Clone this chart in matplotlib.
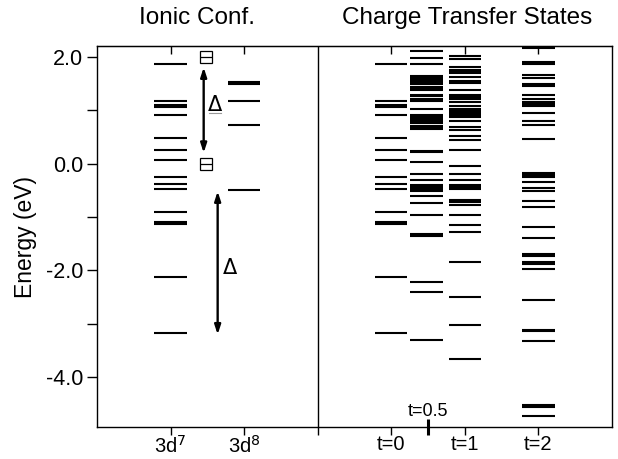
import matplotlib
matplotlib.use("Agg")
import matplotlib.pyplot as plt
from matplotlib.ticker import FixedLocator

plt.rcParams['font.family'] = ['Liberation Sans', 'DejaVu Sans']

# ---- data (energies in eV) ----
levels_3d7 = [1.86, 1.18, 1.09, 1.05, 0.90, 0.48, 0.25, 0.06, -0.25, -0.39, -0.47,
              -0.91, -1.09, -1.13, -2.12, -3.18]
levels_3d8 = [1.52, 1.48, 1.18, 0.72, -0.49]
levels_t0 = list(levels_3d7)
levels_t05 = [2.11, 1.97, 1.86, 1.64, 1.60, 1.56, 1.52, 1.48, 1.44, 1.40, 1.37,
              1.29, 1.26, 1.20, 1.17, 1.02, 0.91, 0.87, 0.83, 0.79, 0.75, 0.71, 0.67, 0.65,
              0.23, 0.21, 0.03, -0.19, -0.30, -0.40, -0.44, -0.48, -0.51, -0.60, -0.74,
              -0.97, -1.32, -1.36, -2.21, -2.40, -3.31]
levels_t1 = [2.02, 1.95, 1.80, 1.76, 1.72, 1.69, 1.62, 1.54, 1.51, 1.38,
             1.28, 1.24, 1.20, 1.16, 1.07, 1.03, 0.99, 0.95, 0.91, 0.88,
             0.79, 0.69, 0.63, 0.51, 0.44, 0.26, -0.05, -0.19, -0.30,
             -0.40, -0.44, -0.48, -0.69, -0.72, -0.77, -0.97, -1.15, -1.28,
             -1.84, -2.49, -3.02, -3.66]
levels_t2 = [2.20, 2.16, 1.90, 1.87, 1.66, 1.61, 1.49, 1.45, 1.28, 1.20, 1.16, 1.12, 1.08,
             0.94, 0.80, 0.72, 0.46, -0.18, -0.22, -0.25, -0.34, -0.46, -0.52,
             -0.70, -0.82, -1.19, -1.40, -1.69, -1.73, -1.85, -1.88, -1.97, -2.56,
             -3.11, -3.14, -3.32, -4.52, -4.56, -4.73]

columns = [1.0, 2.0, 4.0, 4.48, 5.0, 6.0]
column_levels = [levels_3d7, levels_3d8, levels_t0, levels_t05, levels_t1, levels_t2]

tick_pos = [1, 2, 3, 4, 5, 6]
tick_labels = ['3d$^7$', '3d$^8$', '', 't=0', 't=1', 't=2']
ytick_pos = [-4.0, -2.0, 0.0, 2.0]
ytick_labels = ['-4.0', '-2.0', '0.0', '2.0']
yminor_pos = [-3.0, -1.0, 1.0]

square_E = [2.0, 0.0]
gap_upper = (1.80, 0.20)
gap_lower = (-0.52, -3.20)

fig = plt.figure(figsize=(6.18, 4.59), dpi=100)
ax = fig.add_axes([97/618, 32/459, (612-97)/618, (427-46)/459])
ax.set_xlim(0, 7)
ax.set_ylim(-4.93, 2.2)

half = 0.22
for xc, lev in zip(columns, column_levels):
    ax.hlines(lev, xc - half, xc + half, colors='black', lw=1.5)

# divider
ax.axvline(3, color='black', lw=1.0)

# squares
ax.plot([1.48] * len(square_E), square_E, linestyle='none', marker='s', ms=8,
        mfc='white', mec='black', mew=0.9)
ax.plot([1.48] * len(square_E), square_E, linestyle='none', marker='_', ms=8,
        mec='black', mew=0.9)

# arrows
arrow_kw = dict(arrowstyle='<|-|>,head_length=0.55,head_width=0.18', color='black', lw=1.7,
                shrinkA=0, shrinkB=0)
ax.annotate('', xy=(1.45, gap_upper[1]), xytext=(1.45, gap_upper[0]), arrowprops=arrow_kw)
ax.annotate('', xy=(1.64, gap_lower[1]), xytext=(1.64, gap_lower[0]), arrowprops=arrow_kw)
ax.text(1.6, 1.1, r'$\Delta$', fontsize=15, ha='center', va='center')
ax.plot([1.52, 1.69], [0.94, 0.94], color='0.6', lw=0.8)
ax.text(1.81, -1.95, r'$\Delta$', fontsize=15, ha='center', va='center')

# axes ticks
ax.set_xticks(tick_pos)
ax.set_xticklabels(tick_labels, fontsize=14.5)
ax.tick_params(axis='x', which='major', direction='out', length=6, width=1, pad=0,
               top=False)
ax.xaxis.set_minor_locator(FixedLocator([4.5]))
ax.tick_params(axis='x', which='minor', direction='inout', length=11, width=2.2)
ax.text(4.5, -4.64, 't=0.5', fontsize=13, ha='center', va='center')

top = ax.secondary_xaxis('top')
top.set_xticks([1, 2, 4, 5, 6])
top.set_xticklabels([])
top.tick_params(direction='in', length=6, width=1)

ax.set_yticks(ytick_pos)
ax.set_yticklabels(ytick_labels, fontsize=15.5)
ax.yaxis.set_minor_locator(FixedLocator(yminor_pos))
ax.tick_params(axis='y', which='both', direction='out', length=7, width=1, pad=3)
ax.set_ylabel('Energy (eV)', fontsize=16.5, labelpad=6)

for s in ax.spines.values():
    s.set_linewidth(1.0)

ax.text(1.36, 1.073, 'Ionic Conf.', fontsize=17.5, ha='center', va='center',
        transform=ax.get_xaxis_transform())
ax.text(5.03, 1.073, 'Charge Transfer States', fontsize=17.5, ha='center', va='center',
        transform=ax.get_xaxis_transform())

fig.savefig('out.png', dpi=100)
